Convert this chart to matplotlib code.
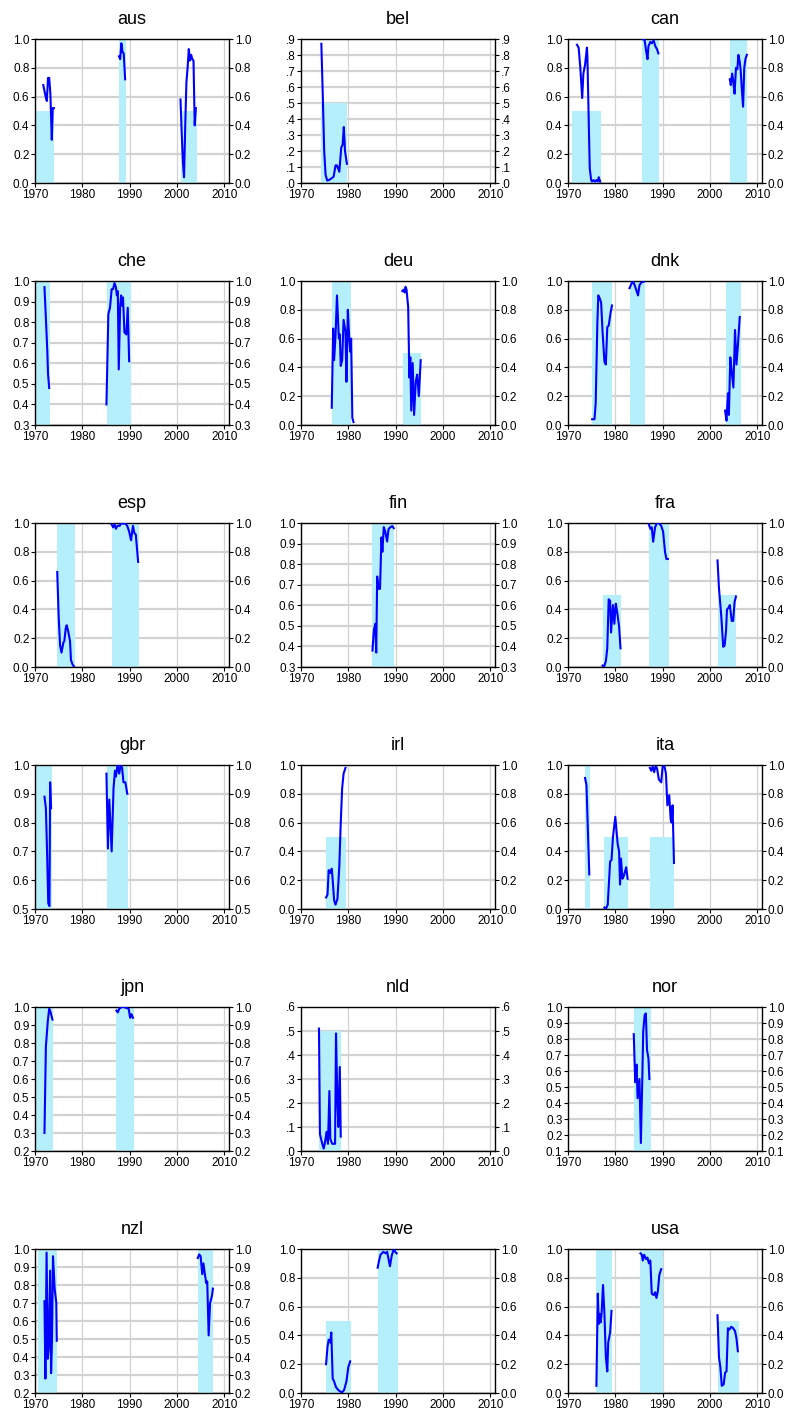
"""Small multiples: probability series per country with shaded episodes."""

import numpy as np
import matplotlib
matplotlib.use("Agg")
import matplotlib.pyplot as plt
from matplotlib.ticker import FuncFormatter, MultipleLocator

plt.rcParams["font.family"] = ["Liberation Sans", "DejaVu Sans"]

countries = ["aus", "bel", "can", "che", "deu", "dnk", "esp", "fin", "fra",
             "gbr", "irl", "ita", "jpn", "nld", "nor", "nzl", "swe", "usa"]

# line segments: (year, value)
aus_segs = [
    [(1971.75, 0.68), (1972.0, 0.64), (1972.25, 0.60), (1972.5, 0.57), (1972.75, 0.73),
     (1973.0, 0.73), (1973.25, 0.62), (1973.55, 0.30), (1973.75, 0.52), (1974.0, 0.52)],
    [(1987.75, 0.88), (1988.0, 0.86), (1988.25, 0.97), (1988.5, 0.91), (1988.75, 0.90),
     (1989.05, 0.72)],
    [(2000.75, 0.58), (2001.0, 0.35), (2001.25, 0.15), (2001.5, 0.04), (2001.75, 0.40),
     (2002.0, 0.70), (2002.25, 0.80), (2002.5, 0.93), (2002.75, 0.85), (2003.0, 0.89),
     (2003.25, 0.86), (2003.5, 0.85), (2003.75, 0.40), (2004.0, 0.52)],
]
bel_segs = [
    [(1974.3, 0.87), (1974.6, 0.55), (1974.9, 0.20), (1975.2, 0.05), (1975.55, 0.015),
     (1976.0, 0.02), (1976.5, 0.03), (1976.9, 0.04), (1977.3, 0.11), (1977.6, 0.11),
     (1978.1, 0.07), (1978.5, 0.22), (1978.8, 0.24), (1979.05, 0.35), (1979.3, 0.20),
     (1979.7, 0.12)],
]
can_segs = [
    [(1971.9, 0.96), (1972.25, 0.94), (1972.6, 0.80), (1973.0, 0.59), (1973.25, 0.76),
     (1973.6, 0.82), (1974.0, 0.94), (1974.1, 0.88), (1974.4, 0.40), (1974.6, 0.10),
     (1974.9, 0.02), (1975.1, 0.01), (1975.4, 0.02), (1975.7, 0.01), (1976.0, 0.02),
     (1976.3, 0.01), (1976.5, 0.04), (1976.8, 0.01)],
    [(1985.8, 1.0), (1986.2, 0.99), (1986.5, 0.92), (1986.8, 0.86), (1987.0, 0.95),
     (1987.4, 0.98), (1987.7, 0.97), (1988.1, 0.99), (1988.45, 0.95), (1988.8, 0.93),
     (1989.1, 0.90)],
    [(2004.2, 0.72), (2004.4, 0.68), (2004.7, 0.76), (2004.95, 0.70), (2005.2, 0.62),
     (2005.5, 0.80), (2005.8, 0.79), (2006.0, 0.89), (2006.3, 0.84), (2006.5, 0.78),
     (2006.8, 0.62), (2007.0, 0.53), (2007.25, 0.80), (2007.5, 0.86), (2007.8, 0.89)],
]
che_segs = [
    [(1972.0, 0.97), (1972.3, 0.82), (1972.6, 0.66), (1972.75, 0.55), (1973.0, 0.48)],
    [(1985.1, 0.40), (1985.5, 0.84), (1985.85, 0.87), (1986.2, 0.96), (1986.5, 0.96),
     (1986.8, 0.99), (1987.1, 0.97), (1987.3, 0.93), (1987.5, 0.95), (1987.7, 0.57),
     (1988.0, 0.88), (1988.2, 0.93), (1988.4, 0.88), (1988.6, 0.92), (1988.9, 0.75),
     (1989.3, 0.74), (1989.6, 0.87), (1989.9, 0.61)],
]
deu_segs = [
    [(1976.5, 0.12), (1976.8, 0.67), (1977.0, 0.45), (1977.3, 0.62), (1977.6, 0.90),
     (1978.0, 0.60), (1978.2, 0.63), (1978.4, 0.41), (1978.7, 0.45), (1979.0, 0.73),
     (1979.4, 0.65), (1979.6, 0.30), (1979.9, 0.80), (1980.2, 0.60), (1980.4, 0.51),
     (1980.6, 0.60), (1980.85, 0.05), (1981.1, 0.02)],
    [(1991.4, 0.93), (1991.7, 0.94), (1991.9, 0.92), (1992.1, 0.96), (1992.3, 0.94),
     (1992.65, 0.82), (1992.9, 0.33), (1993.1, 0.47), (1993.3, 0.10), (1993.6, 0.43),
     (1993.9, 0.07), (1994.25, 0.30), (1994.55, 0.35), (1994.9, 0.20), (1995.3, 0.45)],
]
dnk_segs = [
    [(1975.1, 0.04), (1975.6, 0.04), (1975.85, 0.15), (1976.2, 0.70), (1976.4, 0.90),
     (1976.7, 0.88), (1977.0, 0.85), (1977.3, 0.65), (1977.7, 0.44), (1978.0, 0.42),
     (1978.3, 0.68), (1978.6, 0.69), (1979.0, 0.78), (1979.3, 0.83)],
    [(1983.0, 0.95), (1983.4, 0.98), (1983.7, 1.0), (1984.1, 0.97), (1984.5, 0.93),
     (1984.8, 0.90), (1985.1, 0.97), (1985.5, 0.99), (1986.0, 0.995)],
    [(2003.2, 0.10), (2003.5, 0.03), (2003.8, 0.22), (2004.0, 0.07), (2004.3, 0.47),
     (2004.6, 0.37), (2004.95, 0.26), (2005.3, 0.66), (2005.6, 0.42), (2005.9, 0.55),
     (2006.3, 0.75)],
]
esp_segs = [
    [(1974.7, 0.66), (1975.0, 0.35), (1975.3, 0.15), (1975.6, 0.10), (1976.0, 0.17),
     (1976.2, 0.18), (1976.5, 0.27), (1976.7, 0.29), (1977.0, 0.25), (1977.4, 0.18),
     (1977.6, 0.05), (1977.9, 0.02), (1978.3, 0.0)],
    [(1986.2, 0.99), (1986.5, 0.97), (1986.8, 0.99), (1987.1, 0.96), (1987.4, 0.98),
     (1987.9, 0.98), (1988.2, 1.0), (1988.6, 0.995), (1989.0, 1.0), (1989.5, 0.98),
     (1989.9, 0.94), (1990.3, 0.88), (1990.7, 0.98), (1991.0, 0.93), (1991.3, 0.92),
     (1991.8, 0.73)],
]
fin_segs = [
    [(1985.1, 0.38), (1985.4, 0.48), (1985.7, 0.51), (1985.9, 0.37), (1986.1, 0.74),
     (1986.4, 0.68), (1986.7, 0.68), (1987.0, 0.93), (1987.2, 0.86), (1987.5, 0.98),
     (1987.8, 0.96), (1988.2, 0.91), (1988.5, 0.97), (1988.9, 0.98), (1989.3, 0.985),
     (1989.6, 0.975)],
]
fra_segs = [
    [(1977.3, 0.01), (1977.6, 0.0), (1978.0, 0.04), (1978.3, 0.13), (1978.6, 0.47),
     (1978.9, 0.46), (1979.1, 0.24), (1979.5, 0.43), (1979.8, 0.30), (1980.1, 0.44),
     (1980.4, 0.38), (1980.8, 0.28), (1981.1, 0.13)],
    [(1987.1, 0.99), (1987.4, 0.96), (1987.7, 0.97), (1988.0, 0.87), (1988.4, 0.97),
     (1988.8, 1.0), (1989.2, 1.0), (1989.7, 0.98), (1990.1, 0.94), (1990.5, 0.80),
     (1990.8, 0.75), (1991.1, 0.75)],
    [(2001.6, 0.74), (2001.9, 0.55), (2002.4, 0.35), (2002.8, 0.14), (2003.1, 0.15),
     (2003.4, 0.25), (2003.6, 0.40), (2003.9, 0.41), (2004.2, 0.43), (2004.6, 0.32),
     (2004.9, 0.32), (2005.2, 0.45), (2005.5, 0.49)],
]
gbr_segs = [
    [(1972.0, 0.89), (1972.3, 0.85), (1972.55, 0.70), (1972.8, 0.52), (1973.05, 0.51),
     (1973.2, 0.94), (1973.4, 0.85)],
    [(1985.1, 0.97), (1985.4, 0.71), (1985.7, 0.88), (1986.2, 0.70), (1986.6, 0.92),
     (1986.9, 0.98), (1987.1, 0.96), (1987.45, 1.0), (1987.8, 0.97), (1988.1, 1.0),
     (1988.4, 0.99), (1988.7, 0.94), (1989.1, 0.94), (1989.5, 0.90)],
]
irl_segs = [
    [(1975.3, 0.08), (1975.6, 0.10), (1975.85, 0.27), (1976.2, 0.25), (1976.5, 0.28),
     (1976.7, 0.20), (1977.0, 0.06), (1977.3, 0.03), (1977.7, 0.07), (1978.1, 0.30),
     (1978.4, 0.60), (1978.7, 0.84), (1979.0, 0.94), (1979.4, 0.98)],
]
ita_segs = [
    [(1973.6, 0.91), (1973.9, 0.86), (1974.5, 0.24)],
    [(1977.7, 0.01), (1978.0, 0.0), (1978.4, 0.03), (1978.9, 0.33), (1979.2, 0.34),
     (1979.5, 0.50), (1980.0, 0.64), (1980.5, 0.45), (1980.8, 0.40), (1981.0, 0.17),
     (1981.2, 0.35), (1981.5, 0.21), (1981.8, 0.23), (1982.3, 0.29), (1982.6, 0.21)],
    [(1987.3, 0.98), (1987.6, 0.96), (1987.9, 0.99), (1988.2, 0.95), (1988.5, 0.99),
     (1988.8, 0.98), (1989.2, 0.90), (1989.7, 0.88), (1990.0, 0.99), (1990.4, 0.99),
     (1990.7, 0.94), (1991.0, 0.72), (1991.4, 0.79), (1991.7, 0.62), (1991.9, 0.60),
     (1992.1, 0.72), (1992.4, 0.32)],
]
jpn_segs = [
    [(1972.0, 0.30), (1972.3, 0.78), (1972.7, 0.92), (1973.0, 0.99), (1973.3, 0.97),
     (1973.7, 0.93)],
    [(1987.2, 0.98), (1987.5, 0.97), (1987.8, 0.99), (1988.3, 1.0), (1988.8, 1.0),
     (1989.3, 0.995), (1989.8, 0.99), (1990.1, 0.94), (1990.4, 0.96), (1990.7, 0.94)],
]
nld_segs = [
    [(1973.8, 0.51), (1974.0, 0.07), (1974.5, 0.03), (1974.8, 0.01), (1975.1, 0.04),
     (1975.4, 0.08), (1975.7, 0.03), (1976.0, 0.25), (1976.2, 0.05), (1976.6, 0.03),
     (1976.9, 0.03), (1977.2, 0.03), (1977.4, 0.49), (1977.7, 0.20), (1977.9, 0.10),
     (1978.2, 0.35), (1978.4, 0.06)],
]
nor_segs = [
    [(1983.9, 0.83), (1984.2, 0.53), (1984.5, 0.64), (1984.7, 0.43), (1985.1, 0.55),
     (1985.4, 0.15), (1985.7, 0.55), (1985.9, 0.85), (1986.2, 0.95), (1986.45, 0.96),
     (1986.7, 0.73), (1987.0, 0.68), (1987.2, 0.55)],
]
nzl_segs = [
    [(1972.0, 0.71), (1972.2, 0.28), (1972.45, 0.98), (1972.7, 0.39), (1972.9, 0.45),
     (1973.2, 0.88), (1973.4, 0.31), (1973.6, 0.50), (1973.8, 0.96), (1974.15, 0.78),
     (1974.5, 0.70), (1974.6, 0.49)],
    [(2004.4, 0.95), (2004.7, 0.97), (2005.0, 0.96), (2005.35, 0.86), (2005.6, 0.92),
     (2005.9, 0.86), (2006.2, 0.81), (2006.4, 0.82), (2006.7, 0.52), (2007.0, 0.70),
     (2007.4, 0.74), (2007.6, 0.78)],
]
swe_segs = [
    [(1975.3, 0.20), (1975.6, 0.32), (1975.85, 0.37), (1976.2, 0.35), (1976.4, 0.42),
     (1976.7, 0.10), (1977.0, 0.08), (1977.4, 0.04), (1977.9, 0.02), (1978.3, 0.01),
     (1978.7, 0.005), (1979.1, 0.02), (1979.6, 0.08), (1980.0, 0.18), (1980.4, 0.22)],
    [(1986.2, 0.87), (1986.5, 0.92), (1986.8, 0.96), (1987.1, 0.97), (1987.4, 0.98),
     (1987.9, 0.97), (1988.2, 0.98), (1988.5, 0.93), (1988.8, 0.88), (1989.15, 0.95),
     (1989.6, 1.0), (1989.9, 0.98), (1990.2, 0.97)],
]
usa_segs = [
    [(1976.0, 0.05), (1976.3, 0.69), (1976.5, 0.48), (1976.7, 0.55), (1976.9, 0.49),
     (1977.1, 0.55), (1977.4, 0.75), (1977.7, 0.55), (1978.0, 0.25), (1978.3, 0.15),
     (1978.5, 0.35), (1978.9, 0.42), (1979.2, 0.57)],
    [(1985.3, 0.97), (1985.6, 0.96), (1985.8, 0.92), (1986.1, 0.96), (1986.5, 0.93),
     (1986.8, 0.94), (1987.1, 0.90), (1987.4, 0.92), (1987.7, 0.69), (1988.1, 0.68),
     (1988.4, 0.70), (1988.7, 0.66), (1989.0, 0.71), (1989.3, 0.82), (1989.7, 0.86)],
    [(2001.6, 0.54), (2001.9, 0.25), (2002.2, 0.18), (2002.5, 0.05), (2002.9, 0.06),
     (2003.2, 0.14), (2003.5, 0.15), (2003.8, 0.45), (2004.1, 0.44), (2004.5, 0.46),
     (2004.9, 0.45), (2005.3, 0.43), (2005.6, 0.38), (2005.9, 0.29)],
]

# shaded episodes: (start, end, indicator level)
aus_shade = [(1970.25, 1974.1, 0.5), (1987.8, 1989.3, 1.0), (2000.8, 2004.2, 0.5)]
bel_shade = [(1974.2, 1979.8, 0.5)]
can_shade = [(1970.9, 1976.9, 0.5), (1985.7, 1989.15, 1.0), (2004.2, 2007.8, 1.0)]
che_shade = [(1970.0, 1973.2, 1.0), (1985.2, 1990.2, 1.0)]
deu_shade = [(1976.6, 1980.6, 1.0), (1991.5, 1995.4, 0.5)]
dnk_shade = [(1975.1, 1979.4, 1.0), (1983.0, 1986.3, 1.0), (2003.3, 2006.5, 1.0)]
esp_shade = [(1974.7, 1978.4, 1.0), (1986.2, 1992.0, 1.0)]
fin_shade = [(1985.1, 1989.7, 1.0)]
fra_shade = [(1977.3, 1981.2, 0.5), (1987.1, 1991.3, 1.0), (2001.7, 2005.6, 0.5)]
gbr_shade = [(1970.0, 1973.6, 1.0), (1985.2, 1989.6, 1.0)]
irl_shade = [(1975.3, 1979.6, 0.5)]
ita_shade = [(1973.6, 1974.7, 1.0), (1977.7, 1982.7, 0.5), (1987.3, 1992.5, 0.5)]
jpn_shade = [(1970.2, 1973.9, 1.0), (1987.2, 1991.0, 1.0)]
nld_shade = [(1973.8, 1978.5, 0.5)]
nor_shade = [(1983.9, 1987.5, 1.0)]
nzl_shade = [(1970.7, 1974.7, 1.0), (2004.4, 2007.6, 1.0)]
swe_shade = [(1975.3, 1980.5, 0.5), (1986.2, 1990.5, 1.0)]
usa_shade = [(1976.0, 1979.3, 1.0), (1985.3, 1990.0, 1.0), (2001.6, 2006.2, 0.5)]

# y ranges: (low, high, tick step)
y_range = {
    "aus": (0.0, 1.0, 0.2), "bel": (0.0, 0.9, 0.1), "can": (0.0, 1.0, 0.2),
    "che": (0.3, 1.0, 0.1), "deu": (0.0, 1.0, 0.2), "dnk": (0.0, 1.0, 0.2),
    "esp": (0.0, 1.0, 0.2), "fin": (0.3, 1.0, 0.1), "fra": (0.0, 1.0, 0.2),
    "gbr": (0.5, 1.0, 0.1), "irl": (0.0, 1.0, 0.2), "ita": (0.0, 1.0, 0.2),
    "jpn": (0.2, 1.0, 0.1), "nld": (0.0, 0.6, 0.1), "nor": (0.1, 1.0, 0.1),
    "nzl": (0.2, 1.0, 0.1), "swe": (0.0, 1.0, 0.2), "usa": (0.0, 1.0, 0.2),
}
no_lead_zero = {"bel", "nld"}

LINE = "#0000ff"
SHADE = "#b5effb"
GRID = "#d2d2d2"

W, H = 786, 1414
fig = plt.figure(figsize=(W / 100, H / 100), dpi=100)

col_left = [35, 301, 568]
ax_w, ax_h = 194, 144
row_top0, row_step = 39, 242

data = globals()
for i, c in enumerate(countries):
    r, k = divmod(i, 3)
    top = row_top0 + r * row_step
    ax = fig.add_axes([col_left[k] / W, 1 - (top + ax_h) / H, ax_w / W, ax_h / H])
    lo, hi, step = y_range[c]

    for s, e, lev in data[c + "_shade"]:
        ax.bar(s, lev - lo, width=e - s, bottom=lo, align="edge",
               color=SHADE, linewidth=0, zorder=1)
    for seg in data[c + "_segs"]:
        xs, ys = zip(*seg)
        ax.plot(xs, ys, color=LINE, lw=1.5, zorder=3, solid_joinstyle="round")

    ax.set_xlim(1970, 2011)
    ax.set_ylim(lo, hi)
    ax.set_xticks([1970, 1980, 1990, 2000, 2010])
    ax.yaxis.set_major_locator(MultipleLocator(step))
    if c in no_lead_zero:
        ax.yaxis.set_major_formatter(FuncFormatter(lambda v, p: f"{v:.1f}".lstrip("0")))
    else:
        ax.yaxis.set_major_formatter(FuncFormatter(lambda v, p: f"{v:.1f}"))

    ax.set_axisbelow(True)
    ax.yaxis.grid(True, color=GRID, lw=1.6)
    ax.xaxis.grid(True, color=GRID, lw=0.9)
    for sp in ax.spines.values():
        sp.set_color("black")
        sp.set_linewidth(1.0)

    ax.tick_params(axis="both", direction="out", length=3, width=0.8,
                   labelsize=8.5, pad=1, colors="black")
    ax.tick_params(axis="y", right=True, labelright=True)
    ax.set_title(c, fontsize=13, pad=11)

fig.savefig("out.png", dpi=100)
